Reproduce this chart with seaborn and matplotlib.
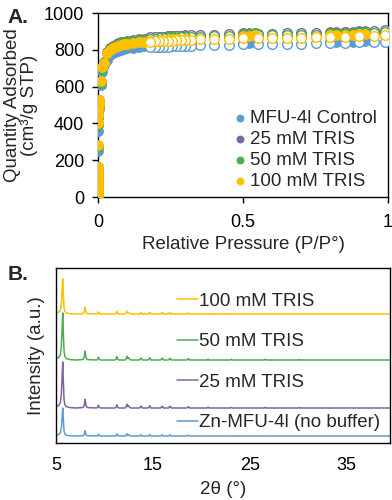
import numpy as np
import pandas as pd
import matplotlib
matplotlib.use("Agg")
import matplotlib.pyplot as plt
import seaborn as sns

# ── 1. Isotherm data (panel A) ───────────────────────────────
SERIES = ["MFU-4l Control", "25 mM TRIS", "50 mM TRIS", "100 mM TRIS"]
COLORS = ["#5B9BD5", "#8064A2", "#4EAC4E", "#FFC000"]

ads_p = [0.00001, 0.00002, 0.00003, 0.00005, 0.00008, 0.0001, 0.00015, 0.0002,
         0.0003, 0.0005, 0.0008, 0.001, 0.0015, 0.002, 0.0025, 0.003,
         0.01, 0.015, 0.02, 0.03, 0.04, 0.05, 0.06, 0.07, 0.08, 0.09, 0.10,
         0.12, 0.14, 0.16, 0.18, 0.20, 0.22, 0.24, 0.26, 0.28, 0.30,
         0.50, 0.52, 0.54, 0.80, 0.82, 0.85, 0.88, 0.90, 0.92]
ads_control = [5, 20, 40, 60, 80, 100, 120, 140, 160, 250, 360, 400, 440, 480, 500, 510,
               610, 680, 720, 745, 770, 780, 790, 795, 800, 805, 808,
               812, 815, 818, 820, 822, 824, 826, 828, 830, 832,
               836, 838, 840, 842, 843, 844, 845, 846, 847]
ads_25 = [10, 30, 50, 70, 90, 110, 130, 150, 165, 275, 395, 435, 470, 500, 515, 525,
          625, 700, 735, 790, 810, 820, 828, 835, 840, 845, 848,
          852, 856, 860, 863, 866, 869, 872, 874, 876, 878,
          890, 892, 894, 896, 897, 898, 899, 900, 901]
ads_50 = [10, 30, 50, 70, 90, 110, 130, 150, 165, 270, 390, 430, 465, 495, 512, 522,
          620, 695, 730, 785, 805, 815, 823, 830, 835, 840, 843,
          847, 851, 855, 858, 861, 864, 867, 869, 871, 873,
          885, 887, 889, 890, 891, 892, 893, 894, 895]
ads_100 = [10, 30, 50, 70, 90, 110, 130, 150, 165, 280, 400, 440, 470, 500, 515, 525,
           630, 705, 730, 785, 800, 810, 815, 820, 825, 830, 833,
           836, 840, 843, 846, 849, 852, 855, 857, 858, 860,
           875, 877, 878, 880, 881, 882, 883, 884, 885]

des_p = [0.99, 0.95, 0.90, 0.85, 0.80, 0.75, 0.70, 0.65, 0.60, 0.55, 0.50, 0.45,
         0.40, 0.35, 0.32, 0.30, 0.285, 0.27, 0.255, 0.24, 0.225, 0.21, 0.195, 0.18]
des_control = [845, 842, 840, 838, 836, 835, 834, 833, 832, 831, 830, 828,
               826, 824, 822, 821, 820, 819, 818, 817, 816, 815, 814, 813]
des_25 = [905, 900, 898, 896, 894, 892, 890, 889, 888, 887, 886, 884,
          882, 880, 878, 877, 876, 875, 874, 873, 872, 871, 870, 869]
des_50 = [895, 891, 889, 887, 885, 883, 881, 880, 879, 878, 877, 875,
          873, 871, 869, 868, 867, 866, 865, 864, 863, 862, 861, 860]
des_100 = [880, 876, 874, 872, 870, 868, 866, 865, 864, 863, 862, 860,
           858, 856, 854, 853, 852, 851, 850, 849, 848, 847, 846, 845]

ads_all = [ads_control, ads_25, ads_50, ads_100]
des_all = [des_control, des_25, des_50, des_100]

# ── 2. PXRD data (panel B) ───────────────────────────────────
two_theta = [5.0, 5.3, 5.45, 5.55, 5.63, 5.69, 5.75, 5.82, 5.9, 6.05, 6.4, 7.0,
             7.8, 7.92, 8.0, 8.08, 8.2, 9.2, 9.3, 9.37, 9.45, 9.6,
             11.1, 11.2, 11.27, 11.35, 11.5, 12.15, 12.25, 12.32, 12.4, 12.5, 12.58, 12.7,
             13.6, 13.7, 13.78, 13.9, 14.5, 14.6, 14.68, 14.8, 15.8, 15.9, 15.98, 16.1,
             16.6, 16.7, 16.78, 16.9, 18.5, 18.6, 18.68, 18.8, 20.6, 20.7, 20.8,
             23.0, 23.1, 23.2, 26.5, 26.6, 26.7, 30.0, 30.1, 30.2, 39.5]
pattern = [0.03, 0.06, 0.12, 0.3, 0.7, 1.0, 0.6, 0.2, 0.08, 0.03, 0.01, 0.0,
           0.01, 0.06, 0.19, 0.07, 0.01, 0.0, 0.02, 0.06, 0.02, 0.0,
           0.0, 0.02, 0.07, 0.02, 0.0, 0.0, 0.03, 0.08, 0.03, 0.05, 0.02, 0.0,
           0.0, 0.02, 0.04, 0.0, 0.0, 0.02, 0.05, 0.0, 0.0, 0.02, 0.04, 0.0,
           0.0, 0.02, 0.04, 0.0, 0.0, 0.01, 0.03, 0.0, 0.0, 0.02, 0.0,
           0.0, 0.015, 0.0, 0.0, 0.015, 0.0, 0.0, 0.01, 0.0, 0.0]
XRD_LABELS = ["Zn-MFU-4l (no buffer)", "25 mM TRIS", "50 mM TRIS", "100 mM TRIS"]
xrd_offset = [7, 35, 83, 129]
xrd_scale = [28, 46, 47, 35]

# ── 3. Figure setup ──────────────────────────────────────────
sns.set_theme(style="ticks")
plt.rcParams["font.family"] = ["Liberation Sans", "DejaVu Sans"]
plt.rcParams["axes.linewidth"] = 1.0

fig = plt.figure(figsize=(3.92, 5.0), dpi=100)
ax1 = fig.add_axes([0.25, 0.606, 0.74, 0.368])
ax2 = fig.add_axes([0.143, 0.114, 0.852, 0.35])

# ── 4. Panel A ───────────────────────────────────────────────
for name, col, ads, des in zip(SERIES, COLORS, ads_all, des_all):
    sns.scatterplot(x=ads_p, y=ads, ax=ax1, color=col, s=48, edgecolor=col,
                    linewidth=0.8, label=name, zorder=3)
    sns.scatterplot(x=des_p, y=des, ax=ax1, facecolor="white", edgecolor=col,
                    s=48, linewidth=1.0, legend=False, zorder=3)

ax1.set_xlim(0, 1)
ax1.set_ylim(0, 1000)
ax1.set_xticks([0, 0.5, 1])
ax1.set_xticklabels(["0", "0.5", "1"])
ax1.set_yticks([0, 200, 400, 600, 800, 1000])
ax1.tick_params(axis="x", labelsize=13, length=4, width=1, pad=8,
                colors="black", direction="out")
ax1.tick_params(axis="y", labelsize=13, length=4, width=1, pad=6,
                colors="black", direction="out")
ax1.set_xlabel("Relative Pressure (P/P°)", fontsize=13.5, labelpad=4)
ax1.set_ylabel("Quantity Adsorbed\n(cm³/g STP)", fontsize=13.5, labelpad=4,
               linespacing=1.0)
for sp in ax1.spines.values():
    sp.set_visible(True)
    sp.set_color("black")
ax1.legend(loc="lower right", bbox_to_anchor=(0.96, 0.04), frameon=False,
           fontsize=13.5, markerscale=0.7, handlelength=0.6, handletextpad=0.2,
           labelspacing=0.2, borderpad=0, borderaxespad=0)

# ── 5. Panel B ───────────────────────────────────────────────
for lab, col, off, sc in zip(XRD_LABELS, COLORS, xrd_offset, xrd_scale):
    yy = [off + sc * v for v in pattern]
    sns.lineplot(x=two_theta, y=yy, ax=ax2, color=col, linewidth=1.1,
                 sort=False, estimator=None, label=lab)

ax2.set_xlim(5, 39.5)
ax2.set_ylim(0, 175)
ax2.set_xticks([5, 15, 25, 35])
ax2.set_yticks([])
ax2.tick_params(axis="x", labelsize=13, length=0, pad=10, colors="black")
ax2.set_xlabel("2θ (°)", fontsize=13.5, labelpad=5)
ax2.set_ylabel("Intensity (a.u.)", fontsize=13.5, labelpad=8)
for sp in ax2.spines.values():
    sp.set_visible(True)
    sp.set_color("black")
h, l = ax2.get_legend_handles_labels()
ax2.legend(h[::-1], l[::-1], loc="upper left", bbox_to_anchor=(0.362, 0.86),
           frameon=False, fontsize=13.5, handlelength=1.1, handletextpad=0.1,
           labelspacing=1.25, borderpad=0, borderaxespad=0)

# panel letters
fig.text(0.02, 0.965, "A.", fontsize=15, fontweight="bold", va="center")
fig.text(0.02, 0.45, "B.", fontsize=15, fontweight="bold", va="center")

fig.savefig("out.png", dpi=100)
